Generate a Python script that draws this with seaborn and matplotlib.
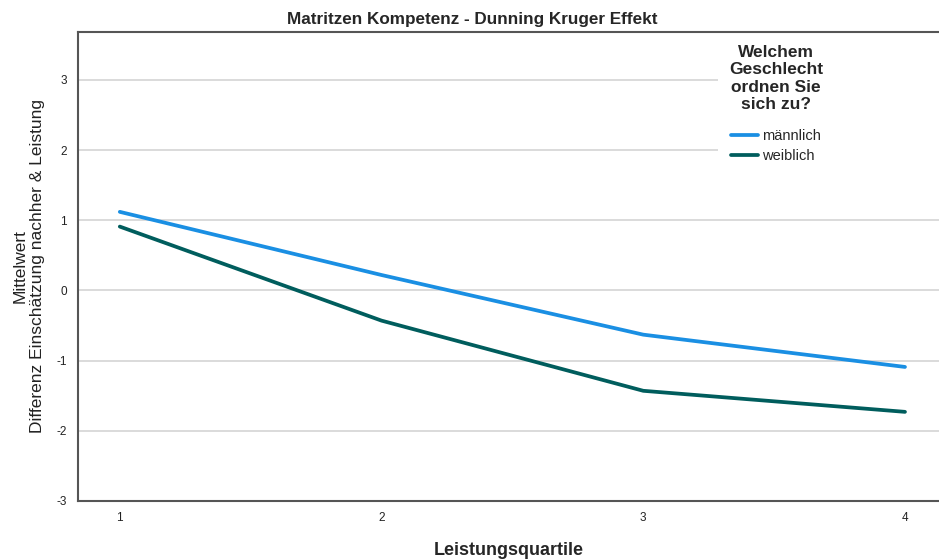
import seaborn as sns
import matplotlib.pyplot as plt
import pandas as pd
from matplotlib.patches import Rectangle

# values
quartile = [1, 2, 3, 4]
maennlich = [1.12, 0.22, -0.63, -1.09]
weiblich = [0.91, -0.43, -1.43, -1.73]
groups = ['männlich', 'weiblich']
colors = ['#1a8fe3', '#005d5d']

df = pd.DataFrame({
    'Leistungsquartile': quartile * 2,
    'Differenz': maennlich + weiblich,
    'Geschlecht': [groups[0]] * 4 + [groups[1]] * 4,
})

sns.set_style("white")
plt.rcParams['font.family'] = ['Liberation Sans', 'DejaVu Sans']
plt.rcParams['axes.unicode_minus'] = False

fig = plt.figure(figsize=(9.39, 5.6), dpi=100)
ax = fig.add_axes([0.083, 0.1054, 0.917, 0.8376])

sns.lineplot(data=df, x='Leistungsquartile', y='Differenz', hue='Geschlecht',
             palette=colors, linewidth=2.7, ax=ax, zorder=3)

ax.set_xlim(0.84, 4.13)
ax.set_ylim(-3, 3.684)
ax.set_xticks(quartile)
ax.set_yticks([-3, -2, -1, 0, 1, 2, 3])
ax.yaxis.grid(True, color='#d4d4d4', linewidth=1.2, zorder=0)
ax.xaxis.grid(False)
ax.tick_params(axis='both', length=0, labelsize=8.5, labelcolor='#222222', pad=8)

for side in ['left', 'top', 'bottom']:
    ax.spines[side].set_color('#555555')
    ax.spines[side].set_linewidth(1.5)
ax.spines['right'].set_visible(False)

# white legend area hides the gridlines up to the right edge
ax.add_patch(Rectangle((0.743, 0.70), 0.26, 0.298, transform=ax.transAxes,
                       facecolor='white', edgecolor='none', zorder=2))

# title is centred on the whole figure, not on the axes
fig.suptitle('Matritzen Kompetenz - Dunning Kruger Effekt', x=0.503, y=0.965,
             fontsize=12.3, fontweight='bold', va='center')
ax.set_xlabel('Leistungsquartile', fontsize=13, fontweight='bold', labelpad=13)
ax.set_ylabel('Mittelwert\nDifferenz Einschätzung nachher & Leistung', fontsize=12.5,
              labelpad=8, multialignment='center', color='#222222')

leg = ax.legend(title='Welchem\nGeschlecht\nordnen Sie\nsich zu?', loc='upper left',
                bbox_to_anchor=(0.7425, 0.997), frameon=False, fontsize=10.5,
                title_fontproperties={'weight': 'bold', 'size': 12.5},
                handlelength=1.8, handletextpad=0.3, labelspacing=0.4,
                borderpad=0.3)
leg.get_title().set_multialignment('center')
leg.get_title().set_linespacing(1.2)
leg._legend_box.sep = 12
leg.set_zorder(5)
for line in leg.get_lines():
    line.set_linewidth(2.7)

fig.savefig('out.png', dpi=100)
